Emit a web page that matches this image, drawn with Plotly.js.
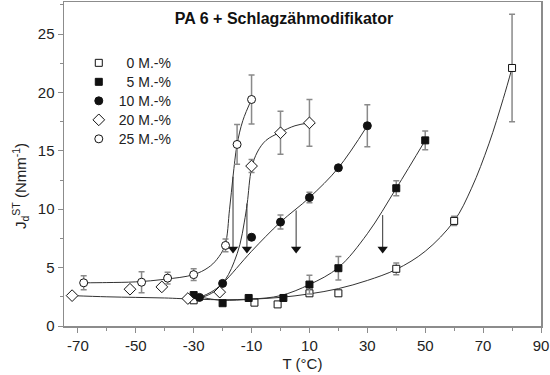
<!DOCTYPE html>
<html>
<head>
<meta charset="utf-8">
<script src="https://cdn.plot.ly/plotly-3.0.1.min.js"></script>
<style>html,body{margin:0;padding:0;background:#fff;}#chart{width:550px;height:375px;}</style>
</head>
<body>
<div id="chart"></div>
<script>
// ---- measured data (T in °C, J in N/mm) ----
const seriesNames = ["\u20070 M.-%", "\u20075 M.-%", "10 M.-%", "20 M.-%", "25 M.-%"];

const T0 = [-30, -9, -1, 10, 20, 40, 60, 80];
const J0 = [2.2, 2.0, 1.85, 2.8, 2.8, 4.9, 9.0, 22.1];
const E0 = [0, 0, 0, 0, 0, 0.5, 0.4, 4.6];

const T5 = [-30, -20, -11, 1, 10, 20, 40, 50];
const J5 = [2.65, 1.95, 2.4, 2.4, 3.55, 4.95, 11.8, 15.9];
const E5 = [0, 0, 0, 0, 0.8, 1.0, 0.65, 0.8];

const T10 = [-28, -20, -10, 0, 10, 20, 30];
const J10 = [2.45, 3.65, 7.6, 8.9, 11.0, 13.55, 17.15];
const E10 = [0, 0, 0, 0.6, 0.45, 0, 1.8];

const T20 = [-72, -52, -41, -32, -21, -10, 0, 10];
const J20 = [2.6, 3.15, 3.35, 2.35, 2.9, 13.7, 16.55, 17.4];
const E20 = [0, 0, 0, 0, 0, 0.55, 1.85, 2.0];

const T25 = [-68, -48, -39, -30, -19, -15, -10];
const J25 = [3.7, 3.75, 4.1, 4.4, 6.9, 15.55, 19.4];
const E25 = [0.6, 0.9, 0.5, 0.5, 0.55, 1.7, 2.1];

// fitted curves
const fitT0 = [-30, -20, -10, 0, 10, 20, 30, 40, 50, 60, 66, 72, 77, 80];
const fitJ0 = [2.3, 2.25, 2.3, 2.45, 2.75, 3.2, 3.9, 4.85, 6.4, 9.0, 11.8, 15.6, 19.5, 22.1];

const fitT5 = [-30, -25, -20, -10, 0, 10, 20, 30, 40, 50];
const fitJ5 = [2.6, 2.35, 2.2, 2.3, 2.6, 3.55, 5.0, 7.9, 11.8, 15.9];

const fitT10 = [-28, -24, -20, -10, 0, 10, 20, 30];
const fitJ10 = [2.45, 2.9, 3.65, 6.4, 8.9, 11.0, 13.55, 17.15];

const fitT20 = [-72, -60, -50, -40, -30, -26, -22, -20, -18, -16, -14, -12.5, -11.5, -10, -8, -5, 0, 5, 10];
const fitJ20 = [2.6, 2.5, 2.45, 2.4, 2.35, 2.55, 3.1, 3.65, 4.4, 5.5, 7.0, 8.9, 10.5, 13.5, 14.9, 15.9, 16.6, 17.15, 17.4];

const fitT25 = [-68, -60, -50, -40, -30, -25, -22, -19.2, -17.6, -16.4, -15, -13, -10];
const fitJ25 = [3.7, 3.72, 3.78, 4.0, 4.4, 5.0, 5.7, 6.9, 10.0, 12.8, 15.55, 17.6, 19.4];

// transition arrows
const arrowT = [-16.4, -11.6, 5.4, 35.3];
const arrowTop = [12.8, 10.5, 9.9, 9.5];
const arrowEnd = [6.6, 6.6, 6.6, 6.6];

// axis ticks
const xTicks = [-70, -50, -30, -10, 10, 30, 50, 70, 90];
const yTicks = [0, 5, 10, 15, 20, 25];

// ---- build traces ----
const FONT = "Liberation Sans, Arial, Helvetica, sans-serif";
const curveLine = {color: "#333", width: 1, shape: "spline", smoothing: 1};
const traces = [];
[[fitT0, fitJ0], [fitT5, fitJ5], [fitT10, fitJ10], [fitT20, fitJ20], [fitT25, fitJ25]].forEach(([x, y]) => {
  traces.push({x: x, y: y, type: "scatter", mode: "lines", line: curveLine, showlegend: false, hoverinfo: "skip"});
});

// arrow shafts
const ax = [], ay = [];
arrowT.forEach((t, i) => { ax.push(t, t, null); ay.push(arrowTop[i], arrowEnd[i], null); });
traces.push({x: ax, y: ay, type: "scatter", mode: "lines", line: {color: "#333", width: 1}, showlegend: false, hoverinfo: "skip"});
traces.push({x: arrowT, y: arrowEnd, type: "scatter", mode: "markers",
  marker: {symbol: "triangle-down", size: 9, color: "#111"}, showlegend: false, hoverinfo: "skip"});

const errStyle = {type: "data", visible: true, color: "#8a8a8a", thickness: 1.5, width: 3};
const mk = (sym, fill, size) => ({symbol: sym, color: fill, size: size, line: {color: "#111", width: 1}});
const pts = [
  [T0, J0, E0, mk("square", "#fff", 7)],
  [T5, J5, E5, mk("square", "#111", 7)],
  [T10, J10, E10, mk("circle", "#111", 8)],
  [T20, J20, E20, mk("diamond", "#fff", 9)],
  [T25, J25, E25, mk("circle", "#fff", 8)]
];
pts.forEach(([x, y, e, m], i) => {
  traces.push({x: x, y: y, type: "scatter", mode: "markers", marker: m,
    error_y: Object.assign({array: e}, errStyle),
    name: "<span style='font-size:14px'>" + seriesNames[i] + "</span>"});
});

const axisCommon = {
  showline: true, mirror: true, linecolor: "#8c8c8c", linewidth: 1.5,
  showgrid: false, zeroline: false, ticks: "outside", ticklen: 5, tickwidth: 1, tickcolor: "#8c8c8c",
  tickfont: {family: FONT, size: 15, color: "#222"}
};

const layout = {
  width: 550, height: 375,
  margin: {l: 64, r: 9, t: 2, b: 49},
  paper_bgcolor: "#fff", plot_bgcolor: "#fff",
  title: {text: "PA 6 + Schlagzähmodifikator", x: 284 / 550, xanchor: "center", xref: "container",
    y: 1 - 18 / 375, yanchor: "middle", yref: "container",
    font: {family: FONT, size: 16, weight: "bold", color: "#111"}},
  xaxis: Object.assign({}, axisCommon, {
    range: [-74.8, 90], tickmode: "array", tickvals: xTicks, ticktext: xTicks.map(String),
    minor: {tickmode: "linear", tick0: -70, dtick: 10, ticks: "outside", ticklen: 3, tickcolor: "#8c8c8c"},
    title: {text: "T (°C)", font: {family: FONT, size: 15, color: "#222"}, standoff: 6}
  }),
  yaxis: Object.assign({}, axisCommon, {
    range: [0, 27.75], tickmode: "array", tickvals: yTicks, ticktext: yTicks.map(String),
    minor: {tickmode: "linear", tick0: 0, dtick: 2.5, ticks: "outside", ticklen: 3, tickcolor: "#8c8c8c"}
  }),
  annotations: [{
    text: "J<sub>d</sub><sup>ST</sup> (Nmm<sup>-1</sup>)", textangle: -90,
    xref: "paper", yref: "paper", x: (20 - 64) / 477, y: (326 - 186) / 324,
    xanchor: "center", yanchor: "middle", showarrow: false,
    font: {family: FONT, size: 15, color: "#222"}
  }],
  legend: {x: 0.031, y: 0.857, xanchor: "left", yanchor: "top", bgcolor: "rgba(0,0,0,0)",
    font: {family: FONT, size: 12, color: "#222"}, itemclick: false},
  showlegend: true
};

Plotly.newPlot("chart", traces, layout, {displayModeBar: false, staticPlot: true});
</script>
</body>
</html>
